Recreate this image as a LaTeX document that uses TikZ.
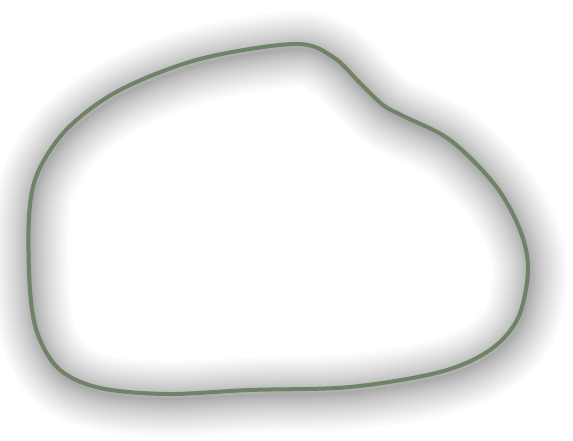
\documentclass[tikz,border=0pt]{standalone}
\begin{document}
\begin{tikzpicture}[x=1pt,y=-1pt,
  outline/.style={draw=blobgreen,line width=4pt,line join=round},
  shadowlayer/.style={draw=black,draw opacity=0.012,line join=round}]
\definecolor{blobgreen}{HTML}{6F8369}
\useasboundingbox[fill=white] (0,0) rectangle (573,441);
\newcommand\myblob{plot[smooth cycle,tension=0.55] coordinates {
 (295,44) (333,57) (360,83) (383,105) (403,116) (450,140) (495,185)
 (520,230) (528,270) (518,318) (490,350) (440,372) (350,387) (250,390)
 (167,394) (100,388) (60,370) (38,335) (30,290) (29,217) (38,172)
 (68,128) (120,90) (200,59)}}
\begin{scope}[shift={(2,5)}]
\foreach \i in {1,...,28}{
  \draw[shadowlayer,line width={(1.6*\i+0.04*\i*\i)*1pt}] \myblob;
}
\end{scope}
\draw[outline] \myblob;
\end{tikzpicture}
\end{document}
